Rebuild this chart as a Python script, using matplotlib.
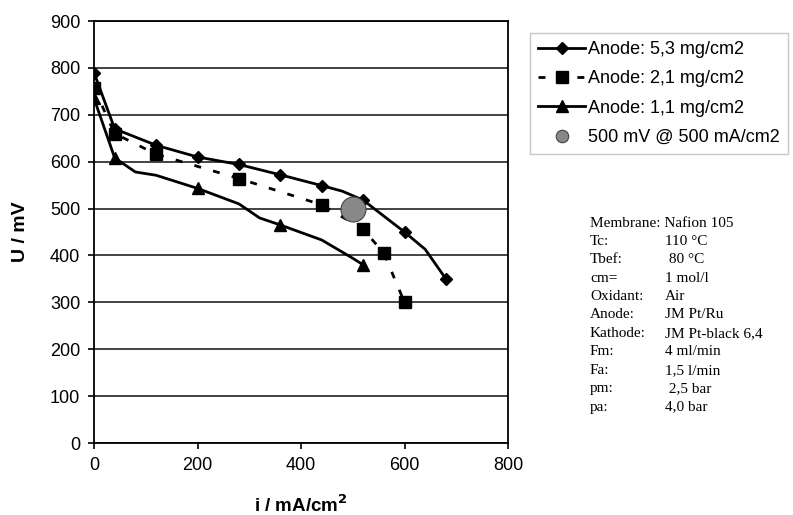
import matplotlib
matplotlib.use("Agg")
import matplotlib.pyplot as plt
from matplotlib.lines import Line2D

# data
i_53 = [0, 40, 120, 200, 280, 360, 440, 480, 520, 600, 640, 680]
u_53 = [790, 670, 635, 610, 594, 572, 549, 537, 518, 450, 413, 350]
mark_53 = [0, 1, 2, 3, 4, 5, 6, 8, 9, 11]

i_21 = [0, 40, 120, 280, 440, 520, 560, 600]
u_21 = [757, 660, 616, 564, 508, 456, 405, 300]

i_11 = [0, 40, 80, 120, 200, 280, 320, 360, 440, 500, 520]
u_11 = [735, 608, 578, 571, 543, 510, 480, 465, 433, 394, 380]
mark_11 = [0, 1, 4, 7, 10]

target_i = [500]
target_u = [500]

labels = ["Anode: 5,3 mg/cm2", "Anode: 2,1 mg/cm2", "Anode: 1,1 mg/cm2",
          "500 mV @ 500 mA/cm2"]

cond_names = ["Membrane: Nafion 105", "Tc:", "Tbef:", "cm=", "Oxidant:", "Anode:",
              "Kathode:", "Fm:", "Fa:", "pm:", "pa:"]
cond_values = ["", "110 °C", " 80 °C", "1 mol/l", "Air", "JM Pt/Ru",
               "JM Pt-black 6,4", "4 ml/min", "1,5 l/min", " 2,5 bar", "4,0 bar"]

plt.rcParams['font.family'] = ['Liberation Sans', 'DejaVu Sans']

fig = plt.figure(figsize=(7.93, 5.15), dpi=100)
ax = fig.add_axes([94/793, 1 - 443/515, 414/793, 422/515])

ax.plot(i_53, u_53, '-', color='black', lw=2, marker='D', ms=6.5,
        markevery=mark_53, zorder=3)
ax.plot(i_21, u_21, color='black', lw=2, ls=(0, (2.5, 4.5)), marker='s', ms=8.5,
        zorder=3)
ax.plot(i_11, u_11, '-', color='black', lw=2, marker='^', ms=8.5,
        markevery=mark_11, zorder=3)
ax.plot(target_i, target_u, 'o', color='#888888', mec='#444444', mew=0.8,
        ms=18, zorder=4)

ax.set_xlim(0, 800)
ax.set_ylim(0, 900)
ax.set_xticks(range(0, 801, 200))
ax.set_yticks(range(0, 901, 100))
ax.yaxis.grid(True, color='#222222', lw=1.2)
ax.set_axisbelow(True)
for s in ax.spines.values():
    s.set_linewidth(1.3)
ax.tick_params(direction='out', length=4, width=1.2, labelsize=13, pad=6)

ax.set_xlabel("i / mA/cm$^\\mathbf{2}$", fontsize=13.5, fontweight='bold',
              labelpad=15)
ax.set_ylabel("U / mV", fontsize=14, fontweight='bold', labelpad=15)

handles = [
    Line2D([], [], color='black', lw=2, marker='D', ms=6.5),
    Line2D([], [], color='black', lw=2, ls=(0, (2.5, 4.5)), marker='s', ms=8.5),
    Line2D([], [], color='black', lw=2, marker='^', ms=8.5),
    Line2D([], [], ls='none', marker='o', color='#888888', mec='#444444',
           mew=0.8, ms=9),
]
leg = fig.legend(handles, labels, loc='upper left',
                 bbox_to_anchor=(530/793, 1 - 33/515), fontsize=13,
                 frameon=True, fancybox=False, edgecolor='#bbbbbb',
                 handlelength=2.6, handletextpad=0.15, labelspacing=0.68,
                 borderpad=0.45, borderaxespad=0)
leg.get_frame().set_linewidth(1.0)

y0 = 1 - 223/515
dy = 18.4/515
for k, (n, v) in enumerate(zip(cond_names, cond_values)):
    fig.text(590/793, y0 - k*dy, n, family='Liberation Serif', fontsize=11,
             va='center')
    if v:
        fig.text(665/793, y0 - k*dy, v, family='Liberation Serif',
                 fontsize=11, va='center')

fig.savefig("out.png", dpi=100)
